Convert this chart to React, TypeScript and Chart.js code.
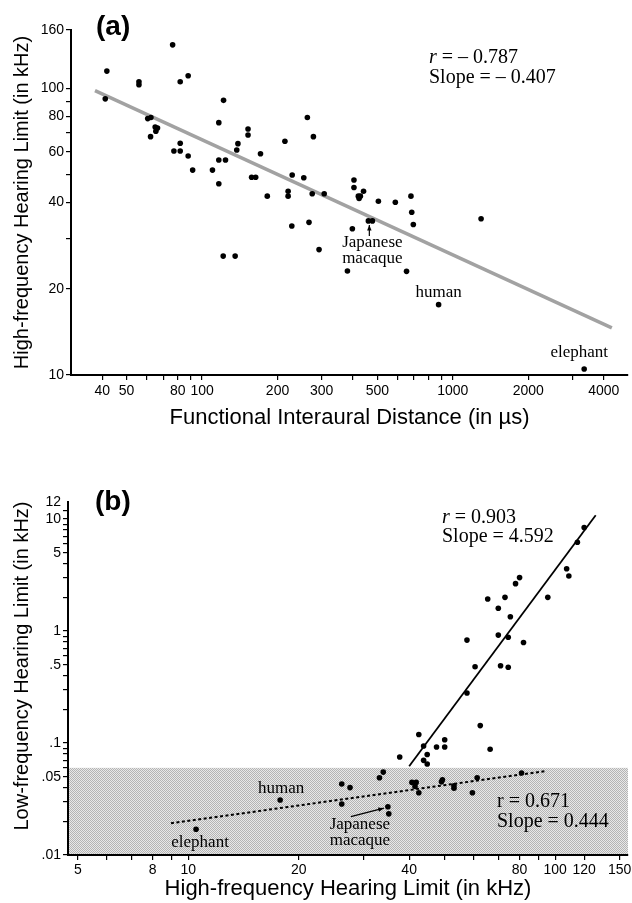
import React, { useEffect, useRef } from 'react';
import { Chart, registerables } from 'chart.js';

Chart.register(...registerables);

const SANS = '"Liberation Sans", Arial, Helvetica, sans-serif';
const SERIF = '"Liberation Serif", "Times New Roman", serif';

// ---------- Panel (a) data ----------
const distanceUs = [41.7, 41.1, 56, 56, 76.3, 81.8, 88, 60.7, 62.5, 62.3, 65, 66.4, 65.4, 77.2, 81.8, 81.8, 88, 91.7,
  121.8, 116.6, 110, 116.6, 124, 116.6, 137.5, 139, 152.5, 152.5, 171, 157.6, 163.6, 214, 228.8, 254.5, 263, 278,
  182, 220.4, 220.4, 275, 307, 403.5, 403.5, 440.6, 420, 428, 423, 505, 590, 681, 686, 696, 1297, 460.6, 478,
  397.6, 228, 267, 292.8, 121.4, 135.5, 380, 654, 878, 3343];
const highFreqA = [115, 92, 105.6, 103, 142, 105.6, 110.8, 78.5, 79.2, 67.9, 73.4, 72.8, 70.9, 60.5, 60.5, 64.4, 58.1, 51.9,
  90.9, 76, 51.9, 56.3, 56.3, 46.5, 61, 64.2, 72.2, 68.8, 59.2, 49, 49, 65.4, 49.9, 48.8, 79.2, 67.9,
  42.1, 43.8, 42.1, 42.9, 42.9, 47.9, 45.1, 43.8, 42.1, 42.1, 41.3, 40.4, 40.1, 42.1, 37, 33.5, 35.1, 34.5, 34.5,
  32.4, 33.1, 34.1, 27.4, 26, 26, 23.07, 23, 17.6, 10.5];
const fitAX = [37.4, 4310];
const fitAY = [98.3, 14.6];
const xTicksA = [40, 50, 60, 70, 80, 90, 100, 200, 300, 400, 500, 600, 700, 800, 900, 1000, 2000, 3000, 4000];
const xLabelsA = [40, 50, 80, 100, 200, 300, 500, 1000, 2000, 4000];
const yTicksA = [10, 20, 30, 40, 50, 60, 70, 80, 90, 100, 160];
const yLabelsA = [10, 20, 40, 60, 80, 100, 160];

// ---------- Panel (b) data ----------
const highFreqB = [120, 115, 107.5, 109, 95.5, 80, 78, 73, 65.5, 70, 75.5, 70, 74.5, 82, 57.5, 60.5, 71, 74.5, 57.5,
  62.5, 66.5, 42.5, 43.8, 47.5, 50, 50, 44.8, 43.8, 44.8, 37.7,
  81, 61.3, 49.3, 49, 53, 53, 59.5, 40.7, 41.8, 41.5, 42.5, 34, 33.2, 35, 35.2, 26.2, 27.6, 26.2, 17.8, 10.5];
const lowFreqB = [8.4, 6.2, 3.6, 3.1, 2.0, 3.0, 2.65, 2.0, 1.93, 1.6, 1.34, 0.92, 0.88, 0.79, 0.83, 0.48, 0.49, 0.475, 0.28,
  0.143, 0.088, 0.119, 0.094, 0.092, 0.107, 0.092, 0.079, 0.07, 0.065, 0.075,
  0.054, 0.049, 0.047, 0.045, 0.0415, 0.0395, 0.036, 0.0445, 0.0445, 0.041, 0.036, 0.055, 0.049, 0.027, 0.0233,
  0.043, 0.04, 0.0285, 0.031, 0.017];
const fitSteepX = [40, 129];
const fitSteepY = [0.062, 10.8];
const fitShallowX = [8.97, 94.3];
const fitShallowY = [0.0192, 0.0562];
const shadeTopB = 0.06;
const xTicksB = [5, 6, 7, 8, 9, 10, 20, 30, 40, 50, 60, 70, 80, 90, 100, 120, 150];
const xLabelsB = [5, 8, 10, 20, 40, 80, 100, 120, 150];
const yTicksB = [0.01, 0.02, 0.03, 0.04, 0.05, 0.06, 0.07, 0.08, 0.09, 0.1, 0.2, 0.3, 0.4, 0.5, 0.6, 0.7, 0.8, 0.9,
  1, 2, 3, 4, 5, 6, 7, 8, 9, 10, 12];
const yLabelsB = [0.01, 0.05, 0.1, 0.5, 1, 5, 10, 12];

type Part = { t: string; italic?: boolean };

function drawRich(ctx: CanvasRenderingContext2D, parts: Part[], x: number, y: number, size: number, family: string) {
  let cx = x;
  ctx.textAlign = 'left';
  ctx.textBaseline = 'middle';
  for (const p of parts) {
    ctx.font = `${p.italic ? 'italic ' : ''}${size}px ${family}`;
    ctx.fillText(p.t, cx, y);
    cx += ctx.measureText(p.t).width;
  }
}

function arrow(ctx: CanvasRenderingContext2D, x1: number, y1: number, x2: number, y2: number) {
  ctx.lineWidth = 1.2;
  ctx.beginPath();
  ctx.moveTo(x1, y1);
  ctx.lineTo(x2, y2);
  ctx.stroke();
  const a = Math.atan2(y2 - y1, x2 - x1);
  const L = 6;
  ctx.beginPath();
  ctx.moveTo(x2, y2);
  ctx.lineTo(x2 - L * Math.cos(a - 0.38), y2 - L * Math.sin(a - 0.38));
  ctx.lineTo(x2 - L * Math.cos(a + 0.38), y2 - L * Math.sin(a + 0.38));
  ctx.closePath();
  ctx.fill();
}

function axisBase(min: number, max: number, tickVals: number[], labelVals: number[], fmt: (v: number) => any, pad: number) {
  return {
    type: 'logarithmic',
    min,
    max,
    afterBuildTicks: (s: any) => {
      s.ticks = tickVals.map((v) => ({ value: v }));
    },
    ticks: {
      autoSkip: false,
      maxRotation: 0,
      minRotation: 0,
      color: '#000',
      padding: pad,
      font: { family: SANS, size: 14 },
      callback: (v: any) => (labelVals.includes(Number(v)) ? fmt(Number(v)) : ''),
    },
    grid: { drawOnChartArea: false, drawTicks: true, tickLength: 5, color: '#000', lineWidth: 1.2 },
    border: { display: true, color: '#000', width: 2 },
  };
}

const commonOptions = {
  animation: false,
  responsive: false,
  devicePixelRatio: 1,
  events: [],
  plugins: { legend: { display: false }, tooltip: { enabled: false } },
};

type PointLabel = { ax: number; ay: number; lines: { t: string; dx: number; dy: number }[]; arrow?: number[] };

function makeDecor(cfg: {
  panel: { t: string; x: number; y: number };
  stats: { parts: Part[]; x: number; y: number }[];
  labels: PointLabel[];
  shade?: { top: number; pattern: CanvasPattern | string };
  yTitle?: { t: string; x: number; y: number };
}) {
  return {
    id: 'decor',
    beforeDraw(chart: any) {
      const { ctx, chartArea } = chart;
      ctx.save();
      ctx.fillStyle = '#fff';
      ctx.fillRect(0, 0, chart.width, chart.height);
      if (cfg.shade) {
        const yTop = chart.scales.y.getPixelForValue(cfg.shade.top);
        ctx.fillStyle = cfg.shade.pattern;
        ctx.fillRect(chartArea.left, yTop, chartArea.right - chartArea.left, chartArea.bottom - yTop);
      }
      ctx.restore();
    },
    afterDraw(chart: any) {
      const { ctx } = chart;
      const xs = chart.scales.x;
      const ys = chart.scales.y;
      ctx.save();
      ctx.fillStyle = '#000';
      ctx.strokeStyle = '#000';
      ctx.font = `bold 28px ${SANS}`;
      ctx.textAlign = 'left';
      ctx.textBaseline = 'middle';
      ctx.fillText(cfg.panel.t, cfg.panel.x, cfg.panel.y);
      for (const s of cfg.stats) drawRich(ctx, s.parts, s.x, s.y, 20, SERIF);
      ctx.font = `17px ${SERIF}`;
      ctx.textAlign = 'center';
      ctx.textBaseline = 'middle';
      for (const l of cfg.labels) {
        const px = xs.getPixelForValue(l.ax);
        const py = ys.getPixelForValue(l.ay);
        for (const ln of l.lines) ctx.fillText(ln.t, px + ln.dx, py + ln.dy);
        if (l.arrow) arrow(ctx, px + l.arrow[0], py + l.arrow[1], px + l.arrow[2], py + l.arrow[3]);
      }
      if (cfg.yTitle) {
        ctx.translate(cfg.yTitle.x, cfg.yTitle.y);
        ctx.rotate(-Math.PI / 2);
        ctx.font = `20px ${SANS}`;
        ctx.textAlign = 'center';
        ctx.textBaseline = 'middle';
        ctx.fillText(cfg.yTitle.t, 0, 0);
      }
      ctx.restore();
    },
  };
}

function makePattern(): CanvasPattern | string {
  const c = document.createElement('canvas');
  c.width = 4;
  c.height = 4;
  const g = c.getContext('2d');
  if (!g) return '#cfcfcf';
  for (let i = 0; i < 4; i++) {
    for (let j = 0; j < 4; j++) {
      g.fillStyle = (i + j) % 2 === 0 ? '#b4b4b4' : '#e8e8e8';
      g.fillRect(i, j, 1, 1);
    }
  }
  const p = g.createPattern(c, 'repeat');
  return p || '#cfcfcf';
}

function configA(): any {
  const decor = makeDecor({
    panel: { t: '(a)', x: 96, y: 27 },
    stats: [
      { parts: [{ t: 'r', italic: true }, { t: ' = – 0.787' }], x: 429, y: 58 },
      { parts: [{ t: 'Slope = – 0.407' }], x: 429, y: 78 },
    ],
    labels: [
      { ax: 878, ay: 17.6, lines: [{ t: 'human', dx: 0, dy: -12 }] },
      { ax: 3343, ay: 10.5, lines: [{ t: 'elephant', dx: -5, dy: -16 }] },
      {
        ax: 469, ay: 34.5,
        lines: [{ t: 'Japanese', dx: 2, dy: 22 }, { t: 'macaque', dx: 2, dy: 38 }],
        arrow: [-1, 15, -1, 4],
      },
    ],
  });
  return {
    type: 'scatter',
    data: {
      datasets: [
        {
          data: distanceUs.map((x, i) => ({ x, y: highFreqA[i] })),
          pointRadius: 2.8, pointBackgroundColor: '#000', pointBorderWidth: 0, showLine: false,
        },
        {
          data: fitAX.map((x, i) => ({ x, y: fitAY[i] })),
          showLine: true, pointRadius: 0, borderColor: '#a2a2a2', borderWidth: 3.5,
        },
      ],
    },
    options: {
      ...commonOptions,
      layout: { padding: { left: 0, right: 1, top: 30, bottom: 0 } },
      scales: {
        x: {
          ...axisBase(30, 5000, xTicksA, xLabelsA, (v) => String(v), 3),
          position: 'bottom',
          afterFit: (s: any) => { s.height = 65; s.paddingLeft = 0; s.paddingRight = 0; },
          title: {
            display: true, text: 'Functional Interaural Distance (in µs)', color: '#000',
            font: { family: SANS, size: 22 }, padding: { top: 0, bottom: 9 },
          },
        },
        y: {
          ...axisBase(10, 160, yTicksA, yLabelsA, (v) => String(v), 2),
          position: 'left',
          afterFit: (s: any) => { s.width = 71; s.paddingTop = 0; s.paddingBottom = 0; },
          title: {
            display: true, text: 'High-frequency Hearing Limit (in kHz)', color: '#000',
            font: { family: SANS, size: 20 }, padding: { top: 10, bottom: 0 },
          },
        },
      },
    },
    plugins: [decor],
  };
}

function configB(): any {
  const decor = makeDecor({
    panel: { t: '(b)', x: 95, y: 62 },
    stats: [
      { parts: [{ t: 'r', italic: true }, { t: ' = 0.903' }], x: 442, y: 78 },
      { parts: [{ t: 'Slope = 4.592' }], x: 442, y: 97 },
      { parts: [{ t: 'r = 0.671' }], x: 497, y: 362 },
      { parts: [{ t: 'Slope = 0.444' }], x: 497, y: 382 },
    ],
    labels: [
      { ax: 17.8, ay: 0.031, lines: [{ t: 'human', dx: 1, dy: -11 }] },
      { ax: 10.5, ay: 0.017, lines: [{ t: 'elephant', dx: 4, dy: 13 }] },
      {
        ax: 35, ay: 0.027,
        lines: [{ t: 'Japanese', dx: -28, dy: 18 }, { t: 'macaque', dx: -28, dy: 34 }],
        arrow: [-37, 10, -4, 1.5],
      },
    ],
    shade: { top: shadeTopB, pattern: makePattern() },
    yTitle: { t: 'Low-frequency Hearing Limit (in kHz)', x: 22, y: 226 },
  });
  const fmtB = (v: number) => {
    const s = v < 1 ? String(v).replace(/^0/, '') : String(v);
    return v === 12 ? [s, ''] : s;
  };
  return {
    type: 'scatter',
    data: {
      datasets: [
        {
          data: highFreqB.map((x, i) => ({ x, y: lowFreqB[i] })),
          pointRadius: 2.8, pointBackgroundColor: '#000', pointBorderWidth: 0, showLine: false,
        },
        {
          data: fitSteepX.map((x, i) => ({ x, y: fitSteepY[i] })),
          showLine: true, pointRadius: 0, borderColor: '#000', borderWidth: 1.8,
        },
        {
          data: fitShallowX.map((x, i) => ({ x, y: fitShallowY[i] })),
          showLine: true, pointRadius: 0, borderColor: '#000', borderWidth: 2, borderDash: [3, 2.5],
        },
      ],
    },
    options: {
      ...commonOptions,
      layout: { padding: { left: 0, right: 4, top: 62, bottom: 0 } },
      scales: {
        x: {
          ...axisBase(4.7, 158, xTicksB, xLabelsB, (v) => String(v), 2),
          position: 'bottom',
          afterFit: (s: any) => { s.height = 48; s.paddingLeft = 0; s.paddingRight = 0; },
          title: {
            display: true, text: 'High-frequency Hearing Limit (in kHz)', color: '#000',
            font: { family: SANS, size: 22 }, padding: { top: 0, bottom: 1 },
          },
        },
        y: {
          ...axisBase(0.01, 14.2, yTicksB, yLabelsB, fmtB, 2),
          position: 'left',
          afterFit: (s: any) => { s.width = 68; s.paddingTop = 0; s.paddingBottom = 0; },
        },
      },
    },
    plugins: [decor],
  };
}

export default function App() {
  const refA = useRef<HTMLCanvasElement>(null);
  const refB = useRef<HTMLCanvasElement>(null);
  useEffect(() => {
    const a = new Chart(refA.current as HTMLCanvasElement, configA());
    const b = new Chart(refB.current as HTMLCanvasElement, configB());
    return () => {
      a.destroy();
      b.destroy();
    };
  }, []);
  return (
    <div style={{ position: 'absolute', left: 0, top: 0, width: 632, height: 903, background: '#fff' }}>
      <canvas ref={refA} width={632} height={440}
        style={{ position: 'absolute', left: 0, top: 0, width: 632, height: 440 }} />
      <canvas ref={refB} width={632} height={463}
        style={{ position: 'absolute', left: 0, top: 440, width: 632, height: 463 }} />
    </div>
  );
}
